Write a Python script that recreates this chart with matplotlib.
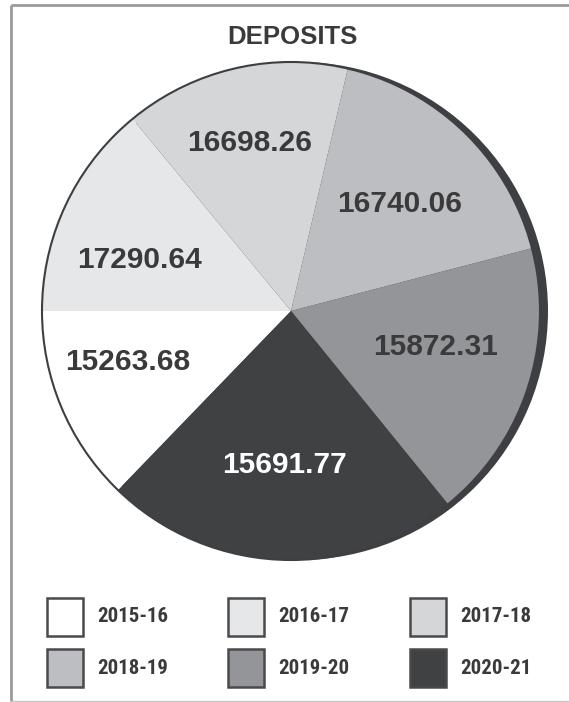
import matplotlib
matplotlib.use("Agg")
import matplotlib.pyplot as plt
from matplotlib.patches import Circle, Rectangle
from matplotlib import font_manager

# ---- data ----
years = ["2015-16", "2016-17", "2017-18", "2018-19", "2019-20", "2020-21"]
deposits = [15263.68, 17290.64, 16698.26, 16740.06, 15872.31, 15691.77]
# slice sizes as drawn in the picture (degrees)
slice_deg = [46.0, 50.5, 52.7, 62.2, 65.5, 83.1]
colors = ["#ffffff", "#e6e7e9", "#d5d6d8", "#bdbec2", "#939598", "#404143"]
label_colors = ["#3a3a3c", "#3a3a3c", "#3a3a3c", "#3a3a3c", "#3a3a3c", "#ffffff"]
title = "DEPOSITS"

names = {f.name for f in font_manager.fontManager.ttflist}
narrow = None
for cand in ["Liberation Sans Narrow", "Roboto Condensed", "Open Sans Condensed", "DejaVu Sans Condensed"]:
    if cand in names:
        narrow = cand
        break
main_font = "Liberation Sans" if "Liberation Sans" in names else "DejaVu Sans"

W, H = 569, 702
fig = plt.figure(figsize=(W / 100, H / 100), dpi=100)
ax = fig.add_axes([0, 0, 1, 1])


def Y(y):
    return H - y


cx, cy, r = 291, Y(311), 249

# frame (left, top, bottom edges)
fc = "#9b9b9b"
ax.plot([11, 11], [Y(5), Y(701)], color=fc, lw=2.0, solid_capstyle="butt", zorder=0)
ax.plot([11, W], [Y(5), Y(5)], color=fc, lw=2.0, solid_capstyle="butt", zorder=0)
ax.plot([11, W], [Y(701), Y(701)], color="#c8c8c8", lw=1.0, solid_capstyle="butt", zorder=0)

# shadow
ax.add_patch(Circle((cx + 8, cy), r, color="#3e3f42", lw=0, zorder=0.5))

wedges, _ = ax.pie(slice_deg, colors=colors, startangle=226, counterclock=False,
                   center=(cx, cy), radius=r, wedgeprops=dict(linewidth=0))
for w in wedges:
    w.set_zorder(1)
ax.add_patch(Circle((cx, cy), r, fill=False, ec="#3e3f42", lw=1.5, zorder=3))

# value labels
label_pos = [(128, 362), (140, 260), (250, 143), (400, 204), (436, 347), (285, 465)]
for (lx, ly), val, col in zip(label_pos, deposits, label_colors):
    ax.text(lx, Y(ly), f"{val:.2f}", ha="center", va="center", fontsize=21.5,
            fontweight="bold", color=col, family=main_font, zorder=4)

ax.text(292, Y(37), title, ha="center", va="center", fontsize=18.5, fontweight="bold",
        color="#3a3a3c", family=main_font)

# legend
box_x = [47, 228, 410]
row_y = [617, 668]
bw, bh = 36, 38
for i, (yr, col) in enumerate(zip(years, colors)):
    rr, cc = divmod(i, 3)
    bx = box_x[cc]
    by = row_y[rr]
    ax.add_patch(Rectangle((bx, Y(by + bh / 2)), bw, bh, fc=col, ec="#4a4a4c", lw=1.8, zorder=2))
    if narrow:
        ax.text(bx + 50, Y(by), yr, ha="left", va="center", fontsize=15, fontweight="bold",
                color="#3a3a3c", family=narrow)
    else:
        ax.text(bx + 50, Y(by), yr, ha="left", va="center", fontsize=12.5, fontweight="bold",
                color="#3a3a3c", family=main_font)

ax.set_xlim(0, W)
ax.set_ylim(0, H)
ax.set_aspect("auto")
ax.axis("off")
fig.savefig("out.png", dpi=100)
